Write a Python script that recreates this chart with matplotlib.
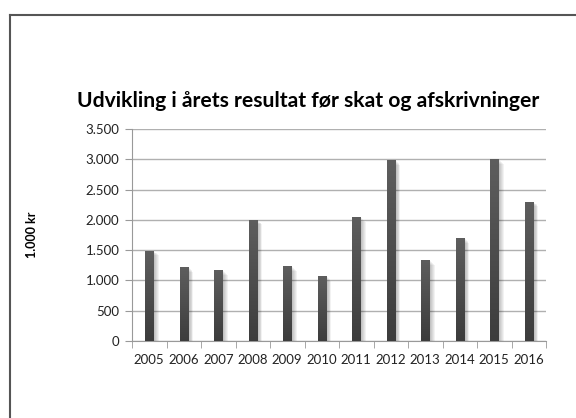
import numpy as np
import matplotlib.pyplot as plt
from matplotlib.lines import Line2D
from matplotlib.colors import LinearSegmentedColormap

years = ['2005', '2006', '2007', '2008', '2009', '2010',
         '2011', '2012', '2013', '2014', '2015', '2016']
values = [1490, 1220, 1170, 2000, 1235, 1065, 2045, 2985, 1330, 1700, 3000, 2300]
yticks = [0, 500, 1000, 1500, 2000, 2500, 3000, 3500]
ytick_labels = ['0', '500', '1.000', '1.500', '2.000', '2.500', '3.000', '3.500']

plt.rcParams['font.family'] = ['Lato', 'DejaVu Sans']

fig = plt.figure(figsize=(5.76, 4.18), dpi=100)
fig.patch.set_facecolor('white')
ax = fig.add_axes([132/576, 1-341/418, 414/576, 212/418])

x = np.arange(len(years))
w = 0.24

# soft shadow to the right of each bar
for k in range(6):
    off = 0.03 + k*0.025
    ax.bar(x + off, [v - 15*k for v in values], width=w, color='black', alpha=0.05,
           zorder=2, linewidth=0)

bars = ax.bar(x, values, width=w, color='#4a4a4a', zorder=3, linewidth=0)

# vertical gradient fill, darker at the base
grad = np.linspace(0, 1, 256).reshape(-1, 1)
cmap = LinearSegmentedColormap.from_list('g', ['#3c3c3c', '#5e5e5e'])
for b in bars:
    im = ax.imshow(grad, cmap=cmap, origin='lower', aspect='auto',
                   extent=[b.get_x(), b.get_x()+b.get_width(), 0, b.get_height()],
                   zorder=4)
    im.set_clip_path(b)

ax.set_xlim(-0.5, len(years)-0.5)
ax.set_ylim(0, 3500)
ax.set_yticks(yticks)
ax.set_yticklabels(ytick_labels)
ax.set_xticks(x)
ax.set_xticklabels(years)
ax.set_xticks(np.arange(-0.5, len(years), 1.0), minor=True)
ax.tick_params(axis='x', which='major', length=0, pad=9, labelsize=9.5)
ax.tick_params(axis='x', which='minor', length=5, color='#999999')
ax.tick_params(axis='y', length=5, color='#999999', labelsize=9.5, pad=4)
for t in ax.get_xticklabels() + ax.get_yticklabels():
    t.set_color('#222222')

ax.grid(axis='y', color='#b0b0b0', linewidth=1.0, zorder=0)
ax.set_axisbelow(True)
for s in ['top', 'right']:
    ax.spines[s].set_visible(False)
ax.spines['left'].set_color('#999999')
ax.spines['bottom'].set_color('#999999')

ax.set_ylabel('1.000 kr', fontsize=9, fontweight='bold', labelpad=34)

fig.text(308/576, 1-101/418, 'Udvikling i årets resultat før skat og afskrivninger',
         ha='center', va='center', fontsize=15.2, fontweight='bold')

# chart frame edges
fig.add_artist(Line2D([10/576, 10/576], [0, 1-15/418], color='#555555', lw=1.5))
fig.add_artist(Line2D([10/576, 1], [1-15/418, 1-15/418], color='#555555', lw=1.5))

fig.savefig('out.png', dpi=100, facecolor='white')
